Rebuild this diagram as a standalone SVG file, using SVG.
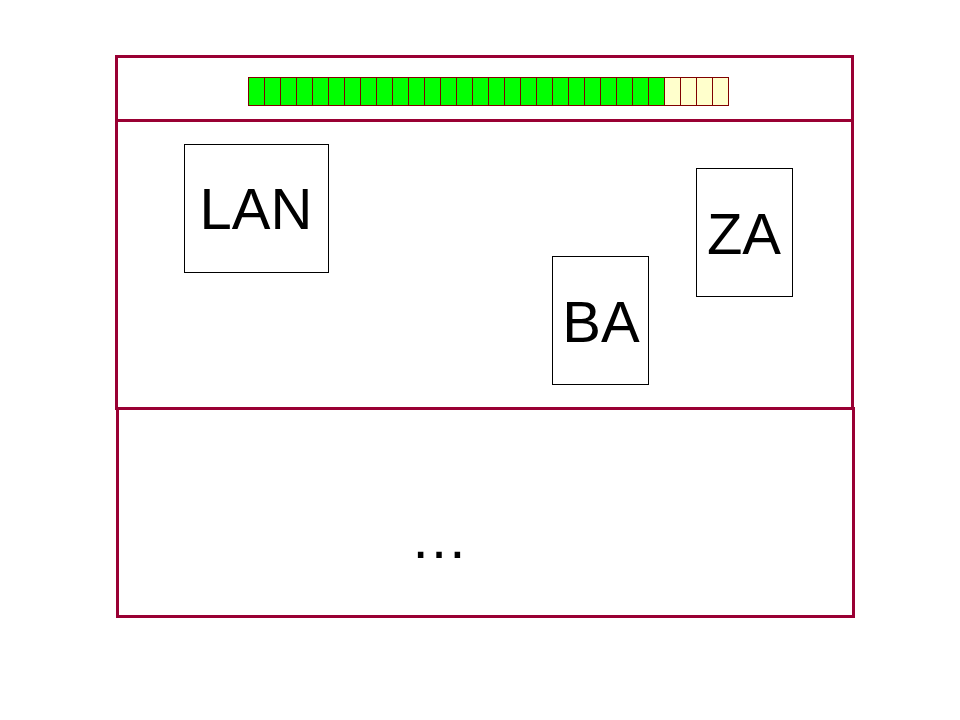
<svg xmlns="http://www.w3.org/2000/svg" width="960" height="720" viewBox="0 0 960 720">
<style>
.frame{fill:none;stroke:#990033;stroke-width:3}
.node{fill:#ffffff;stroke:#000000;stroke-width:1}
.g{fill:#00ff00;stroke:#800000;stroke-width:1}
.y{fill:#ffffcc;stroke:#800000;stroke-width:1}
.lbl{font-family:"Liberation Sans",Arial,sans-serif;font-size:58px;fill:#000000;text-anchor:middle}
</style>
<rect width="960" height="720" fill="#ffffff"/>
<g id="frame">
<rect class="frame" x="116.5" y="56.5" width="736" height="352"/>
<line class="frame" x1="116.5" y1="120.5" x2="852.5" y2="120.5"/>
<rect class="frame" x="117.5" y="408.5" width="736" height="208"/>
</g>
<g id="progress">
<rect class="g" x="248.5" y="77.5" width="16" height="28"/>
<rect class="g" x="264.5" y="77.5" width="16" height="28"/>
<rect class="g" x="280.5" y="77.5" width="16" height="28"/>
<rect class="g" x="296.5" y="77.5" width="16" height="28"/>
<rect class="g" x="312.5" y="77.5" width="16" height="28"/>
<rect class="g" x="328.5" y="77.5" width="16" height="28"/>
<rect class="g" x="344.5" y="77.5" width="16" height="28"/>
<rect class="g" x="360.5" y="77.5" width="16" height="28"/>
<rect class="g" x="376.5" y="77.5" width="16" height="28"/>
<rect class="g" x="392.5" y="77.5" width="16" height="28"/>
<rect class="g" x="408.5" y="77.5" width="16" height="28"/>
<rect class="g" x="424.5" y="77.5" width="16" height="28"/>
<rect class="g" x="440.5" y="77.5" width="16" height="28"/>
<rect class="g" x="456.5" y="77.5" width="16" height="28"/>
<rect class="g" x="472.5" y="77.5" width="16" height="28"/>
<rect class="g" x="488.5" y="77.5" width="16" height="28"/>
<rect class="g" x="504.5" y="77.5" width="16" height="28"/>
<rect class="g" x="520.5" y="77.5" width="16" height="28"/>
<rect class="g" x="536.5" y="77.5" width="16" height="28"/>
<rect class="g" x="552.5" y="77.5" width="16" height="28"/>
<rect class="g" x="568.5" y="77.5" width="16" height="28"/>
<rect class="g" x="584.5" y="77.5" width="16" height="28"/>
<rect class="g" x="600.5" y="77.5" width="16" height="28"/>
<rect class="g" x="616.5" y="77.5" width="16" height="28"/>
<rect class="g" x="632.5" y="77.5" width="16" height="28"/>
<rect class="g" x="648.5" y="77.5" width="16" height="28"/>
<rect class="y" x="664.5" y="77.5" width="16" height="28"/>
<rect class="y" x="680.5" y="77.5" width="16" height="28"/>
<rect class="y" x="696.5" y="77.5" width="16" height="28"/>
<rect class="y" x="712.5" y="77.5" width="16" height="28"/>
</g>
<g id="LAN">
<rect class="node" x="184.5" y="144.5" width="144" height="128"/>
<text class="lbl" x="256" y="229">LAN</text>
</g>
<g id="BA">
<rect class="node" x="552.5" y="256.5" width="96" height="128"/>
<text class="lbl" x="601" y="342">BA</text>
</g>
<g id="ZA">
<rect class="node" x="696.5" y="168.5" width="96" height="128"/>
<text class="lbl" x="744" y="254">ZA</text>
</g>
<g id="connectors"></g>
<text class="lbl" x="439" y="558">…</text>
</svg>
